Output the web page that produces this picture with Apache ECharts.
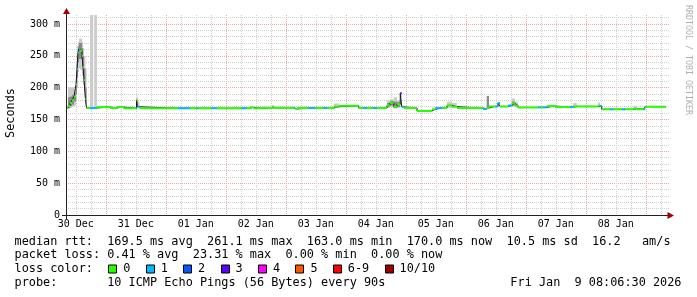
<!DOCTYPE html>
<html><head><meta charset="utf-8">
<script src="https://cdn.jsdelivr.net/npm/echarts@6/dist/echarts.min.js"></script>
<style>html,body{margin:0;padding:0;background:#fff}#c{width:697px;height:297px}</style>
</head><body><div id="c"></div>
<script>
// ---- DATA (time = hours since 30 Dec 00:00) ----
const X_MIN = 8.1, X_MAX = 249.5, END_HOUR = 248.1;
const segStart = [8.1, 8.9, 9.7, 10.5, 11.3, 12.1, 12.5, 12.9, 13.3, 13.7, 14.5, 14.9, 15.3, 15.9, 16.3, 17.7, 19.0, 19.4, 20.5, 25.7,
  28.4, 31.0, 36.3, 36.7, 37.5, 52.9, 57.7, 60.4, 61.0, 66.4, 68.4, 78.4, 80.4, 81.7, 83.0, 86.5, 90.5, 91.3, 99.2, 99.8,
  100.5, 105.2, 107.8, 111.2, 112.5, 115.2, 117.2, 125.2, 127.0, 128.4, 131.0, 132.4, 136.5, 137.7, 139.2, 140.5, 141.8, 142.4, 143.2, 148.5,
  154.5, 155.8, 158.5, 160.5, 162.5, 164.5, 174.9, 176.4, 177.3, 179.7, 180.9, 181.7, 185.0, 186.4, 187.7, 188.9, 196.9, 198.1, 198.9, 200.4,
  203.7, 209.7, 211.0, 212.4, 221.0, 221.7, 222.4, 225.7, 227.0, 230.4, 231.8, 235.1, 236.5, 239.1, 239.8];
// median rtt in ms
const median = [168, 171, 176, 180, 186, 205, 229, 255, 261, 258, 250, 232, 212, 182, 168, 168, 168, 168, 169.5, 168,
  169.5, 167.5, 180, 170, 167.6, 167.6, 167.6, 167.6, 167.6, 167.6, 167.6, 167.6, 167.6, 169, 167.6, 168.3, 170, 168.3, 168, 166.5,
  168, 168, 168, 168, 168, 170, 171.5, 168, 168, 168, 168, 168, 172, 176, 170, 174, 191, 170, 168, 163.3,
  166, 168, 168, 172, 170, 168, 166.5, 168, 170.4, 170.4, 176, 170.4, 172, 175, 172, 168.8, 169, 169, 169, 171,
  169.5, 169.5, 170.5, 170.4, 172, 171, 166, 166, 166, 166, 166, 167, 166, 166, 170];
// lost pings out of 10
const loss = [0, 0, 0, 0, 0, 0, 1, 0, 1, 0, 0, 0, 0, 0, 0, 1, 1, 1, 0, 0,
  0, 0, 0, 1, 0, 1, 0, 1, 0, 1, 0, 1, 0, 0, 0, 0, 0, 0, 1, 0,
  0, 1, 0, 1, 0, 0, 0, 0, 1, 0, 1, 0, 0, 0, 0, 0, 3, 1, 0, 0,
  0, 1, 0, 0, 0, 0, 1, 0, 0, 1, 1, 0, 1, 0, 0, 0, 1, 0, 1, 0,
  0, 1, 0, 0, 0, 1, 0, 1, 0, 1, 0, 0, 0, 1, 0];
// outer smoke (all pings), ms
const smokeLo = [166, 166, 168, 170, 172, 180, 200, 225, 230, 228, 220, 205, 185, 172, null, 166, null, 166, null, null,
  null, null, 170, 168, null, null, null, null, null, null, null, null, null, null, null, null, 168, null, null, null,
  null, null, null, null, null, 168, null, null, null, null, null, null, 168, 170, 167, 168, 185, null, null, null,
  null, null, null, 168, 168, null, null, null, null, null, null, null, null, 170, 169, null, null, null, null, null,
  null, null, 168, null, 169, null, null, null, null, null, null, 165, null, null, null];
const smokeHi = [172, 200, 200, 200, 198, 240, 265, 272, 277, 277, 272, 262, 250, 230, null, 400, null, 400, null, null,
  null, null, 186, 178, null, null, null, null, null, null, null, null, null, null, null, null, 172, null, null, null,
  null, null, null, null, null, 175, null, null, null, null, null, null, 180, 182, 185, 180, 193, null, null, null,
  null, null, null, 178, 176, null, null, null, null, null, null, null, null, 183, 178, null, null, null, null, null,
  null, null, 176, null, 177, null, null, null, null, null, null, 171, null, null, null];
// inner (darker) smoke, ms
const coreLo = [null, 168, 171, 173, 178, 190, 215, 240, 245, 245, 235, 218, 195, 175, null, null, null, null, null, null,
  null, null, 172, null, null, null, null, null, null, null, null, null, null, null, null, null, null, null, null, null,
  null, null, null, null, null, null, null, null, null, null, null, null, 170, 172, 168, 170, null, null, null, null,
  null, null, null, null, null, null, null, 168, null, null, null, null, null, 172, null, null, null, null, null, null,
  null, null, null, null, null, null, null, null, null, null, null, null, null, null, null];
const coreHi = [null, 185, 186, 188, 192, 225, 250, 265, 270, 270, 262, 250, 230, 200, null, null, null, null, null, null,
  null, null, 183, null, null, null, null, null, null, null, null, null, null, null, null, null, null, null, null, null,
  null, null, null, null, null, null, null, null, null, null, null, null, 176, 179, 178, 177, null, null, null, null,
  null, null, null, null, null, null, null, 187, null, null, null, null, null, 178, null, null, null, null, null, null,
  null, null, null, null, null, null, null, null, null, null, null, null, null, null, null];

const xLabelHours = [12, 36, 60, 84, 108, 132, 156, 180, 204, 228];
const xLabelText = ['30 Dec', '31 Dec', '01 Jan', '02 Jan', '03 Jan', '04 Jan', '05 Jan', '06 Jan', '07 Jan', '08 Jan'];
const yLabelValues = [0, 50, 100, 150, 200, 250, 300];
const yLabelText = ['0', '50 m', '100 m', '150 m', '200 m', '250 m', '300 m'];
const Y_MAX = 314;

const lossLabels = ['0', '1', '2', '3', '4', '5', '6-9', '10/10'];
const lossColors = ['#26ff00', '#00b8ff', '#0059ff', '#5e00ff', '#ff00ff', '#ff5500', '#ff0000', '#a10000'];
function lossColor(n) { if (n >= 10) return lossColors[7]; if (n >= 6) return lossColors[6]; return lossColors[n]; }

const textRows = [
  'median rtt:  169.5 ms avg  261.1 ms max  163.0 ms min  170.0 ms now  10.5 ms sd  16.2   am/s',
  'packet loss: 0.41 % avg  23.31 % max  0.00 % min  0.00 % now',
  'loss color:',
  'probe:       10 ICMP Echo Pings (56 Bytes) every 90s'
];
const dateText = 'Fri Jan  9 08:06:30 2026';

// ---- LAYOUT ----
const GL = 66, GT = 15, GW = 603.5, GH = 200;
const MONO = '"DejaVu Sans Mono", monospace';
const FS = 11.85, CW = FS * 0.602;

const minorX = [], majorX = [];
for (let h = 12; h < X_MAX; h += 6) { (h % 24 === 0 ? majorX : minorX).push(h); }
const minorY = [], majorY = [];
for (let v = 10; v < Y_MAX; v += 10) { (v % 50 === 0 ? majorY : minorY).push(v); }

const segData = segStart.map((s, i) => [s, i + 1 < segStart.length ? segStart[i + 1] : END_HOUR, median[i], loss[i]]);
const smokeData = [], coreData = [];
segData.forEach((d, i) => {
  if (smokeLo[i] != null) smokeData.push([d[0], d[1], smokeLo[i], smokeHi[i]]);
  if (coreLo[i] != null) coreData.push([d[0], d[1], coreLo[i], coreHi[i]]);
});
const lineData = segStart.map((s, i) => [s, median[i]]);
lineData.push([END_HOUR, median[median.length - 1]]);

function rectItem(color, halfMs) {
  return function (params, api) {
    const s = api.value(0), e = api.value(1);
    let lo, hi, fill = color;
    if (halfMs) { lo = api.value(2) - halfMs; hi = api.value(2) + halfMs; fill = lossColor(api.value(3)); }
    else { lo = api.value(2); hi = api.value(3); }
    const cs = params.coordSys;
    const p0 = api.coord([s, lo]), p1 = api.coord([e, hi]);
    const top = Math.max(p1[1], cs.y);
    return { type: 'rect', shape: { x: p0[0], y: top, width: p1[0] - p0[0], height: p0[1] - top },
      style: { fill: fill } };
  };
}

const gridLineMinor = { show: true, lineStyle: { color: '#d0d0d0', type: [1, 1], width: 1 } };
const gridLineMajor = { show: true, lineStyle: { color: '#e4a9a9', type: [1, 1], width: 1 } };

const chart = echarts.init(document.getElementById('c'), null, { renderer: 'canvas' });

const graphic = [];
const axisY = GT + GH;
graphic.push({ type: 'line', z: 100, shape: { x1: GL - 4, y1: axisY + 0.5, x2: GL + GW - 1, y2: axisY + 0.5 }, style: { stroke: '#222', lineWidth: 1 } });
graphic.push({ type: 'polygon', z: 101, shape: { points: [[GL + GW - 2, axisY + 0.5 - 3.5], [GL + GW + 4.5, axisY + 0.5], [GL + GW - 2, axisY + 0.5 + 3.5]] }, style: { fill: '#a00000' } });
graphic.push({ type: 'line', z: 100, shape: { x1: GL + 0.5, y1: axisY + 4, x2: GL + 0.5, y2: GT - 2 }, style: { stroke: '#222', lineWidth: 1 } });
graphic.push({ type: 'polygon', z: 101, shape: { points: [[GL + 0.5 - 3.5, GT - 1], [GL + 0.5, GT - 7], [GL + 0.5 + 3.5, GT - 1]] }, style: { fill: '#a00000' } });

const rowY = [241.5, 255, 269, 282.7];
const TX = 14.5;
textRows.forEach((t, i) => graphic.push({ type: 'text', style: { text: t, x: TX, y: rowY[i], font: FS + 'px ' + MONO, fill: '#000', verticalAlign: 'middle', align: 'left' } }));
graphic.push({ type: 'text', style: { text: dateText, x: 681.5, y: rowY[3], font: FS + 'px ' + MONO, fill: '#000', verticalAlign: 'middle', align: 'right' } });
let bx = TX + 13 * CW + 1;
lossLabels.forEach((lab, i) => {
  graphic.push({ type: 'rect', shape: { x: Math.round(bx) + 0.5, y: rowY[2] - 4, width: 8, height: 8 }, style: { fill: lossColors[i], stroke: '#000', lineWidth: 1 } });
  graphic.push({ type: 'text', style: { text: lab, x: bx + 15, y: rowY[2], font: FS + 'px ' + MONO, fill: '#000', verticalAlign: 'middle', align: 'left' } });
  bx = bx + 15 + lab.length * CW + 15.3;
});
graphic.push({ type: 'text', x: 11, y: 113, rotation: Math.PI / 2, style: { text: 'Seconds', x: 0, y: 0, font: FS + 'px ' + MONO, fill: '#000', align: 'center', verticalAlign: 'middle' } });
graphic.push({ type: 'text', x: 688, y: 60, rotation: -Math.PI / 2, style: { text: 'RRDTOOL / TOBI OETIKER', x: 0, y: 0, font: '8.3px ' + MONO, fill: '#b0b0b0', align: 'center', verticalAlign: 'middle' } });

const option = {
  animation: false,
  backgroundColor: '#ffffff',
  grid: { left: GL, top: GT, width: GW, height: GH, outerBoundsMode: 'none', containLabel: false },
  xAxis: [
    { type: 'value', min: X_MIN, max: X_MAX, gridIndex: 0, position: 'bottom',
      axisLine: { show: false }, axisTick: { show: false, customValues: minorX },
      splitLine: gridLineMinor,
      axisLabel: { show: true, customValues: xLabelHours, margin: 4, color: '#000', fontFamily: MONO, fontSize: 10,
        formatter: v => xLabelText[xLabelHours.indexOf(v)] || '' } },
    { type: 'value', min: X_MIN, max: X_MAX, gridIndex: 0, position: 'top',
      axisLine: { show: false }, axisTick: { show: false, customValues: majorX },
      splitLine: gridLineMajor, axisLabel: { show: false } }
  ],
  yAxis: [
    { type: 'value', min: 0, max: Y_MAX, gridIndex: 0, position: 'left',
      axisLine: { show: false }, axisTick: { show: false, customValues: minorY },
      splitLine: gridLineMinor,
      axisLabel: { show: true, customValues: yLabelValues, margin: 6, color: '#000', fontFamily: MONO, fontSize: 10,
        formatter: v => yLabelText[yLabelValues.indexOf(v)] || '' } },
    { type: 'value', min: 0, max: Y_MAX, gridIndex: 0, position: 'right',
      axisLine: { show: false }, axisTick: { show: false, customValues: majorY },
      splitLine: gridLineMajor, axisLabel: { show: false } }
  ],
  series: [
    { type: 'custom', name: 'smoke', xAxisIndex: 0, yAxisIndex: 0, z: 1, silent: true,
      renderItem: rectItem('#cccccc', 0), data: smokeData, encode: { x: [0, 1], y: [2, 3] } },
    { type: 'custom', name: 'smokeCore', xAxisIndex: 0, yAxisIndex: 0, z: 2, silent: true,
      renderItem: rectItem('#8a8a8a', 0), data: coreData, encode: { x: [0, 1], y: [2, 3] } },
    { type: 'line', name: 'median', xAxisIndex: 0, yAxisIndex: 0, z: 3, silent: true, step: 'end',
      showSymbol: false, symbol: 'none', data: lineData, lineStyle: { color: '#1a1a1a', width: 1 } },
    { type: 'custom', name: 'loss', xAxisIndex: 0, yAxisIndex: 0, z: 4, silent: true,
      renderItem: rectItem(null, 1.6), data: segData, encode: { x: [0, 1], y: 2 } }
  ],
  graphic: { elements: graphic }
};
chart.setOption(option);
</script></body></html>
